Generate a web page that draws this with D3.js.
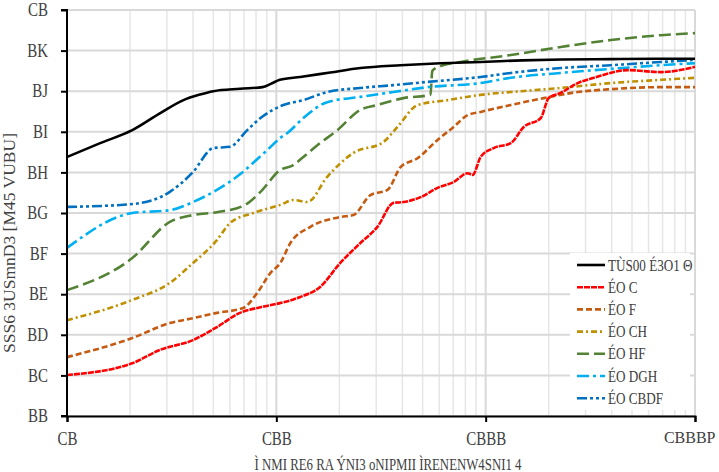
<!DOCTYPE html>
<html><head><meta charset="utf-8">
<script src="https://cdnjs.cloudflare.com/ajax/libs/d3/7.8.5/d3.min.js"></script>
<style>
html,body{margin:0;padding:0;background:#fff;}
text{font-family:"Liberation Serif","DejaVu Serif",serif;fill:#404040;}
</style></head>
<body>
<svg id="chart" width="719" height="472"></svg>
<script>
// ---- data ----
const yTickValues = [0,0.1,0.2,0.3,0.4,0.5,0.6,0.7,0.8,0.9,1.0];
const yTickLabels = ["BB","BC","BD","BE","BF","BG","BH","BI","BJ","BK","CB"];
const xTickValues = [10,100,1000,10000];
const xTickLabels = ["CB","CBB","CBBB","CBBBP"];
const xTitle = "Ì NMI RE6 RA ÝNI3 oNIPMII ÌRENENW4SNI1 4";
const yTitle = "SSS6 3USmnD3 [M45 VUBU]";

const seriesNames = ["TÙS00 É3O1 Θ","ÉO C","ÉO F","ÉO CH","ÉO HF","ÉO DGH","ÉO CBDF"];

const blackX = [10,14.4,20.5,27.9,36,42.7,50,67,86,94,104,130,181,252,392,609,946,1500,2300,4000,7000,10000];
const blackY = [0.638,0.672,0.704,0.746,0.778,0.791,0.800,0.806,0.810,0.818,0.828,0.835,0.846,0.857,0.864,0.869,0.872,0.876,0.878,0.879,0.880,0.880];

const redX = [10,20.5,27.9,40,52,67,84,104,130,162,202,252,304,363,405,489,589,703,820,867,946,1092,1318,1521,1834,2000,2285,2754,3288,4777,6870,10000];
const redY = [0.101,0.130,0.163,0.187,0.219,0.254,0.268,0.278,0.293,0.318,0.377,0.426,0.466,0.525,0.527,0.539,0.562,0.576,0.598,0.594,0.638,0.660,0.672,0.712,0.734,0.783,0.796,0.820,0.833,0.852,0.847,0.860];

const orangeX = [10,20.5,31,40,52,69.5,81,93.6,104.5,116.7,145.5,202,233.5,281.5,340,392,473,589,703,820,946,1318,1896,2754,3963,6870,10000];
const orangeY = [0.145,0.192,0.229,0.241,0.254,0.266,0.303,0.352,0.377,0.426,0.466,0.490,0.495,0.544,0.557,0.613,0.635,0.680,0.712,0.741,0.749,0.766,0.783,0.798,0.805,0.810,0.810];

const goldX = [10,20.5,31,40,52,60,77.6,104.5,120.5,140.7,175,233.5,325,379,473,658,946,1318,2285,3963,6870,10000];
const goldY = [0.236,0.286,0.328,0.377,0.433,0.475,0.500,0.520,0.532,0.527,0.589,0.648,0.675,0.712,0.766,0.778,0.791,0.798,0.808,0.820,0.828,0.833];

const greenX = [10,20.5,31,40,52,71,84,104.5,120.5,134.6,157,195.7,252,304,405,545,556,609,759,1318,2285,3963,6870,10000];
const greenY = [0.310,0.389,0.478,0.495,0.502,0.520,0.552,0.606,0.618,0.638,0.667,0.704,0.754,0.766,0.783,0.791,0.850,0.862,0.872,0.889,0.909,0.926,0.938,0.943];

const ltblueX = [10,20.5,31,40,52,68.5,84,90.5,104.5,113,134.6,175,252,363,528,946,1318,2285,3963,6870,10000];
const ltblueY = [0.414,0.500,0.507,0.527,0.557,0.599,0.640,0.655,0.685,0.697,0.734,0.773,0.786,0.798,0.810,0.820,0.833,0.845,0.855,0.864,0.869];

const dkblueX = [10,20.5,31,40,50,60,72.6,84,108,134.6,175,252,363,528,946,1318,2285,3963,6870,10000];
const dkblueY = [0.515,0.522,0.552,0.601,0.660,0.663,0.704,0.734,0.766,0.778,0.798,0.808,0.815,0.823,0.835,0.845,0.857,0.864,0.872,0.877];

const seriesX = [blackX,redX,orangeX,goldX,greenX,ltblueX,dkblueX];
const seriesY = [blackY,redY,orangeY,goldY,greenY,ltblueY,dkblueY];
const colors = ["#000000","#ff0000","#c55a11","#bf9000","#548235","#00b0f0","#0070c0"];
const dashes = [null,"6,1","6,3","6,3,2,3","12,5","12,4,3,4","10,3,3,3,3,3"];

// ---- layout ----
const W = 719, H = 472;
const m = {left:67, right:24, top:10, bottom:56};
const svg = d3.select("#chart");
const x = d3.scaleLog().domain([10,10000]).range([m.left, W-m.right]);
const y = d3.scaleLinear().domain([0,1]).range([H-m.bottom, m.top]);

// condense a text element horizontally
function condense(sel, factor){
  sel.each(function(){
    const len = this.getComputedTextLength();
    d3.select(this).attr("textLength", len*factor).attr("lengthAdjust","spacingAndGlyphs");
  });
}

// gridlines
const grid = svg.append("g");
const minor = [];
for (let d=10; d<10000; d*=10) for (let k=2;k<=9;k++) minor.push(d*k);
grid.selectAll("line.vmin").data(minor).join("line")
  .attr("x1",d=>x(d)).attr("x2",d=>x(d)).attr("y1",y(0)).attr("y2",y(1))
  .attr("stroke","#e6e6e6").attr("stroke-width",1.5);
grid.selectAll("line.vmaj").data(xTickValues).join("line")
  .attr("x1",d=>x(d)).attr("x2",d=>x(d)).attr("y1",y(0)).attr("y2",y(1))
  .attr("stroke","#d9d9d9").attr("stroke-width",2);
grid.selectAll("line.h").data(yTickValues).join("line")
  .attr("x1",x(10)).attr("x2",x(10000)).attr("y1",d=>y(d)).attr("y2",d=>y(d))
  .attr("stroke","#d9d9d9").attr("stroke-width",2);

// series
const line = d3.line().x(d=>x(d[0])).y(d=>y(d[1])).curve(d3.curveMonotoneX);
const order = [4,5,6,3,2,1,0];
order.forEach(i=>{
  const pts = seriesX[i].map((v,j)=>[v, seriesY[i][j]]);
  svg.append("path").datum(pts).attr("d",line)
    .attr("fill","none").attr("stroke",colors[i]).attr("stroke-width",2.6)
    .attr("stroke-dasharray",dashes[i]);
});

// axes
const yAxis = d3.axisLeft(y).tickValues(yTickValues)
  .tickFormat((d,i)=>yTickLabels[i]).tickSize(6).tickPadding(13);
const gy = svg.append("g").attr("transform",`translate(${m.left},0)`).call(yAxis);
const xAxis = d3.axisBottom(x).tickValues(xTickValues)
  .tickFormat((d,i)=>xTickLabels[i]).tickSize(6).tickPadding(10);
const gx = svg.append("g").attr("transform",`translate(0,${H-m.bottom})`).call(xAxis);
[gx,gy].forEach(g=>{
  g.select(".domain").attr("stroke","#000").attr("stroke-width",2);
  g.selectAll(".tick line").attr("stroke","#000").attr("stroke-width",2);
  g.selectAll(".tick text").attr("font-size",18).attr("fill","#404040")
    .attr("font-family","Liberation Serif");
  condense(g.selectAll(".tick text").filter(d=>d!==10000), 0.83);
});
gy.select(".domain").attr("d",`M-6,${y(1)}H0V${y(0)}H-6`);
// keep the last x label inside the picture
gx.selectAll(".tick text").filter((d)=>d===10000)
  .attr("font-size",16).attr("text-anchor","end").attr("x", (W-4) - x(10000));

// axis titles
const xt = svg.append("text").attr("x",388).attr("y",470)
  .attr("text-anchor","middle").attr("font-size",16).text(xTitle);
xt.attr("textLength",267).attr("lengthAdjust","spacingAndGlyphs");
const yt = svg.append("text").attr("transform",`translate(15,243) rotate(-90)`)
  .attr("text-anchor","middle").attr("font-size",17).text(yTitle);
yt.attr("textLength",220).attr("lengthAdjust","spacingAndGlyphs");

// legend
const lg = svg.append("g");
lg.append("rect").attr("x",570).attr("y",253).attr("width",120).attr("height",157).attr("fill","#fff");
seriesNames.forEach((n,i)=>{
  const yy = 265 + i*22.2;
  lg.append("line").attr("x1",577).attr("x2",605).attr("y1",yy).attr("y2",yy)
    .attr("stroke",colors[i]).attr("stroke-width",2.6).attr("stroke-dasharray",dashes[i]);
  const t = lg.append("text").attr("x",608).attr("y",yy+5.5).attr("font-size",16).text(n);
  condense(t, 0.82);
});
</script>
</body></html>
